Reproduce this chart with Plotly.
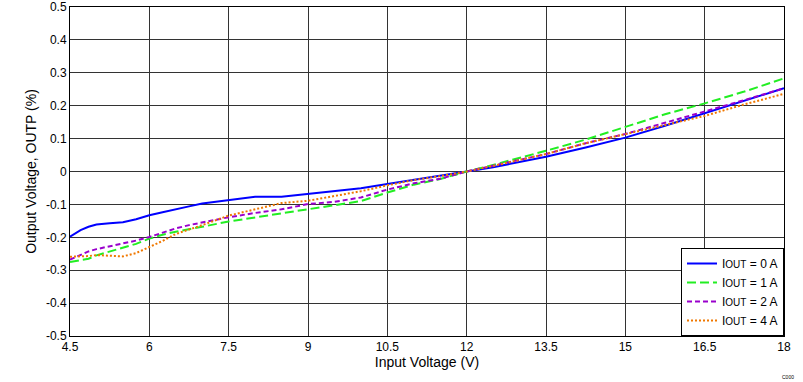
import plotly.graph_objects as go

vin = [4.5, 4.7, 4.85, 5.0, 5.25, 5.5, 5.75, 6.0, 6.25, 6.5, 6.75, 7.0, 7.5, 8.0, 8.5,
       9.0, 9.5, 10.0, 10.5, 11.0, 11.5, 12.0, 12.5, 13.0, 13.5, 14.25, 15.0, 15.75,
       16.5, 17.25, 18.0]

iout0 = [-0.198, -0.178, -0.168, -0.161, -0.157, -0.154, -0.145, -0.133, -0.124, -0.114,
         -0.106, -0.097, -0.087, -0.077, -0.077, -0.069, -0.060, -0.051, -0.038, -0.026,
         -0.014, 0.0, 0.013, 0.030, 0.045, 0.073, 0.103, 0.139, 0.177, 0.215, 0.253]

iout1 = [-0.275, -0.268, -0.265, -0.255, -0.243, -0.232, -0.220, -0.204, -0.192, -0.183,
         -0.176, -0.168, -0.152, -0.140, -0.128, -0.116, -0.103, -0.090, -0.064, -0.040,
         -0.023, 0.0, 0.020, 0.041, 0.063, 0.097, 0.136, 0.174, 0.207, 0.243, 0.283]

iout2 = [-0.268, -0.255, -0.243, -0.236, -0.228, -0.219, -0.210, -0.199, -0.186, -0.173,
         -0.163, -0.155, -0.139, -0.126, -0.115, -0.099, -0.092, -0.079, -0.055, -0.036,
         -0.022, 0.0, 0.017, 0.035, 0.053, 0.086, 0.114, 0.148, 0.182, 0.217, 0.253]

iout4 = [-0.259, -0.258, -0.257, -0.254, -0.255, -0.258, -0.248, -0.230, -0.211, -0.190,
         -0.177, -0.163, -0.134, -0.114, -0.096, -0.089, -0.075, -0.060, -0.042, -0.026,
         -0.014, 0.0, 0.017, 0.036, 0.053, 0.086, 0.114, 0.142, 0.169, 0.204, 0.236]

x_ticks = [4.5, 6, 7.5, 9, 10.5, 12, 13.5, 15, 16.5, 18]
x_tick_labels = ["4.5", "6", "7.5", "9", "10.5", "12", "13.5", "15", "16.5", "18"]
y_ticks = [-0.5, -0.4, -0.3, -0.2, -0.1, 0, 0.1, 0.2, 0.3, 0.4, 0.5]
y_tick_labels = ["-0.5", "-0.4", "-0.3", "-0.2", "-0.1", "0", "0.1", "0.2", "0.3", "0.4", "0.5"]

sub = "<span style='font-size:10px'>OUT</span>"
series = [
    ("I" + sub + " = 0 A", iout0, "#0000FF", "solid"),
    ("I" + sub + " = 1 A", iout1, "#22EE22", "9px,4px"),
    ("I" + sub + " = 2 A", iout2, "#9900CC", "5px,3px"),
    ("I" + sub + " = 4 A", iout4, "#F07800", "2px,2px"),
]

fig = go.Figure()
for name, ys, color, dash in series:
    fig.add_trace(go.Scatter(x=vin, y=ys, mode="lines", name=name,
                             line=dict(color=color, width=2, dash=dash)))

font = dict(family="Liberation Sans, Arial, sans-serif", size=12, color="#000000")

fig.update_layout(
    width=803, height=382,
    margin=dict(l=70, r=19, t=7, b=46, autoexpand=False),
    paper_bgcolor="white", plot_bgcolor="white",
    font=font,
    showlegend=True,
    legend=dict(x=1, y=0, xanchor="right", yanchor="bottom",
                bgcolor="white", bordercolor="#000000", borderwidth=1,
                font=dict(family="Liberation Sans, Arial, sans-serif", size=12),
                tracegroupgap=0, itemwidth=30),
)
fig.update_xaxes(range=[4.5, 18], tickvals=x_ticks, ticktext=x_tick_labels,
                 showgrid=True, gridcolor="#333333", gridwidth=1,
                 showline=True, linecolor="#000000", linewidth=1, mirror=True,
                 ticks="", zeroline=False, automargin=False,
                 title=dict(text="Input Voltage (V)", standoff=2))
fig.update_yaxes(range=[-0.5, 0.5], tickvals=y_ticks, ticktext=y_tick_labels,
                 showgrid=True, gridcolor="#333333", gridwidth=1,
                 showline=True, linecolor="#000000", linewidth=1, mirror=True,
                 ticks="", zeroline=False, automargin=False,
                 title=dict(text="Output Voltage, OUTP (%)", standoff=6))
fig.add_annotation(text="C000", xref="paper", yref="paper", x=1.017, y=-0.125,
                   xanchor="right", yanchor="middle", showarrow=False,
                   font=dict(size=5, color="#000000"))
fig.write_html("out.html", config={"displayModeBar": False},
               post_script="document.body.style.margin='0';document.body.style.padding='0';")
